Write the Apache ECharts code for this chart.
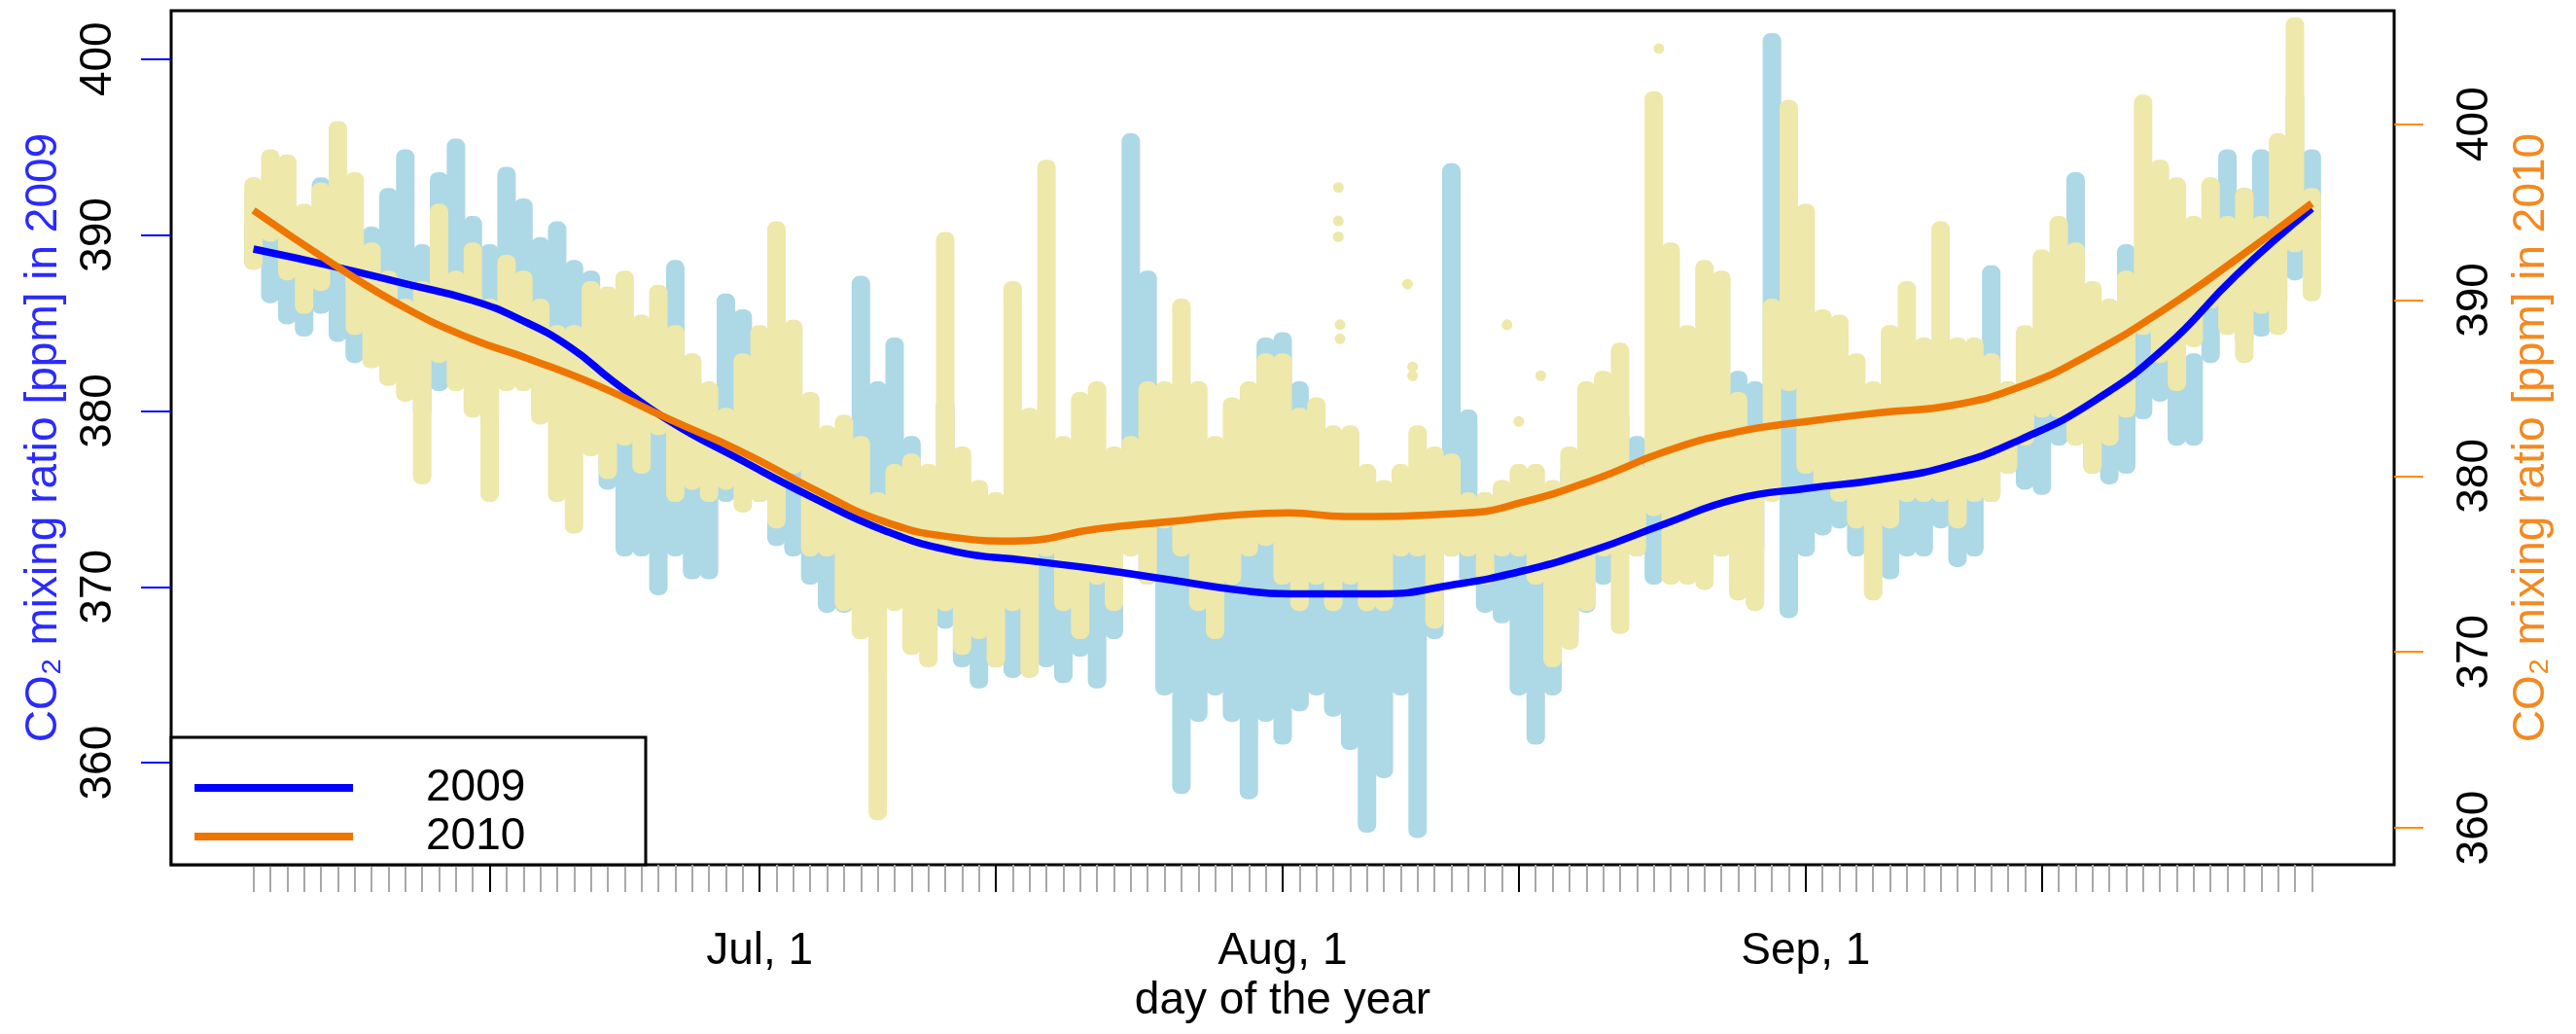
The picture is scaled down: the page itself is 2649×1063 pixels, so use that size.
<!DOCTYPE html>
<html>
<head>
<meta charset="utf-8">
<title>CO2 mixing ratio 2009 / 2010</title>
<script src="https://cdn.jsdelivr.net/npm/echarts@6/dist/echarts.min.js"></script>
<style>
  html, body { margin: 0; padding: 0; background: #fff; }
  #chart { width: 2649px; height: 1063px; }
</style>
</head>
<body>
<div id="chart"></div>
<script>
// day of the year, Jun 1 (152) .. Oct 1 (274)
var firstDay = 152;
var lastDay = 274;

// daily lowest / highest reading, 2009 (left axis, ppm)
var lo2009 = [388.3, 386.4, 385.2, 384.5, 385.8, 384.2, 383.0, 384.5, 383.3, 385.8,
  379.8, 381.4, 385.8, 383.0, 379.2, 384.5, 383.9, 383.0, 381.4, 380.1,
  378.3, 375.8, 372.0, 372.0, 369.8, 372.0, 370.7, 370.7, 375.1, 376.7,
  375.1, 372.6, 372.0, 370.4, 368.8, 368.8, 370.1, 365.0, 372.0, 368.8,
  367.3, 367.9, 365.7, 364.5, 365.7, 365.1, 366.3, 365.7, 364.8, 366.3,
  364.5, 367.3, 375.0, 370.4, 364.1, 358.5, 362.6, 364.1, 362.6, 358.2,
  362.6, 361.3, 363.2, 364.1, 362.9, 361.0, 356.3, 359.4, 364.1, 356.0,
  367.3, 372.0, 370.4, 368.8, 368.2, 364.1, 361.3, 364.1, 367.3, 368.8,
  370.4, 372.0, 372.0, 370.4, 372.0, 372.0, 373.6, 372.0, 370.4, 372.0,
  378.3, 368.5, 372.0, 373.2, 373.6, 372.0, 373.2, 370.7, 372.0, 372.0,
  373.6, 371.4, 372.0, 375.1, 376.7, 375.8, 375.5, 378.3, 379.8, 376.7,
  376.1, 376.7, 379.8, 380.8, 378.3, 378.3, 383.0, 386.1, 383.9, 384.5,
  386.1, 387.7, 390.8];
var hi2009 = [390.8, 389.9, 389.6, 389.2, 393.0, 388.9, 388.6, 390.2, 392.4, 394.6,
  389.2, 393.3, 395.2, 390.8, 389.2, 393.6, 391.8, 389.6, 390.5, 388.3,
  387.7, 383.0, 383.0, 381.4, 380.8, 388.3, 382.0, 379.8, 386.4, 385.5,
  381.4, 379.2, 377.6, 375.8, 375.1, 376.7, 387.4, 381.4, 383.9, 378.3,
  375.1, 380.5, 375.1, 373.6, 372.6, 372.0, 373.6, 373.6, 372.0, 373.6,
  372.0, 375.8, 395.5, 387.7, 376.7, 375.1, 372.0, 373.6, 370.4, 372.0,
  383.9, 384.2, 381.4, 376.7, 376.7, 375.8, 376.1, 373.6, 375.1, 372.0,
  376.7, 393.8, 379.8, 375.1, 373.6, 372.0, 370.4, 370.4, 376.7, 375.1,
  375.8, 379.8, 378.3, 376.7, 378.3, 384.5, 383.0, 379.8, 382.0, 381.4,
  401.2, 381.4, 378.3, 376.7, 378.3, 376.7, 376.7, 376.7, 376.7, 378.3,
  379.8, 381.4, 379.8, 388.0, 381.4, 379.8, 383.0, 387.7, 393.3, 386.1,
  384.5, 389.2, 384.5, 386.1, 384.5, 383.0, 389.2, 394.6, 392.4, 394.6,
  392.4, 398.0, 394.6];

// daily lowest / highest reading, 2010 (right axis, ppm)
var lo2010 = [392.0, 393.6, 391.4, 389.5, 390.8, 392.0, 388.3, 386.4, 385.4, 384.5,
  379.8, 386.7, 385.1, 383.6, 378.8, 385.1, 385.1, 383.2, 378.8, 377.0,
  381.4, 380.1, 382.0, 380.4, 382.6, 378.8, 379.5, 378.8, 379.5, 378.2,
  378.8, 377.3, 380.4, 375.7, 375.7, 372.6, 371.0, 360.7, 372.6, 370.1,
  369.4, 372.6, 370.1, 371.0, 369.4, 372.6, 368.8, 375.7, 372.6, 371.0,
  374.1, 372.6, 375.7, 374.1, 377.3, 375.7, 372.6, 371.0, 374.1, 375.7,
  376.3, 374.1, 372.6, 374.1, 372.6, 374.1, 372.6, 372.6, 375.7, 375.7,
  371.6, 375.7, 375.7, 374.1, 375.7, 375.7, 374.1, 369.4, 370.4, 372.6,
  375.7, 371.3, 375.7, 378.0, 374.1, 374.1, 373.8, 375.7, 373.2, 372.6,
  378.8, 385.1, 380.4, 379.5, 378.8, 377.3, 373.2, 377.3, 378.8, 378.8,
  378.8, 377.3, 378.8, 378.8, 380.4, 382.0, 383.6, 383.6, 382.0, 380.4,
  382.0, 383.6, 388.3, 386.7, 385.1, 387.6, 389.8, 388.3, 386.7, 389.5,
  388.3, 393.0, 390.2];
var hi2010 = [396.7, 398.3, 398.0, 395.2, 396.4, 399.9, 397.0, 393.0, 391.4, 389.8,
  390.8, 395.2, 391.4, 393.0, 389.8, 392.3, 391.4, 389.8, 388.3, 388.3,
  390.8, 390.5, 391.4, 388.9, 390.6, 388.3, 386.7, 385.1, 383.6, 386.7,
  388.3, 394.2, 388.6, 384.5, 382.6, 383.2, 382.0, 378.8, 380.4, 381.0,
  380.4, 393.6, 381.4, 379.5, 378.8, 390.8, 383.6, 397.7, 382.0, 384.5,
  385.1, 381.4, 382.0, 385.1, 385.1, 389.8, 385.1, 382.0, 384.2, 385.1,
  386.7, 386.7, 383.6, 384.2, 382.6, 382.6, 380.4, 379.5, 380.4, 382.6,
  381.4, 381.0, 378.8, 378.8, 379.5, 380.4, 380.4, 379.5, 381.4, 385.1,
  385.7, 387.3, 380.4, 401.6, 393.0, 388.3, 392.0, 391.4, 384.5, 382.6,
  389.8, 401.1, 395.2, 389.2, 388.9, 386.7, 385.1, 388.3, 390.8, 387.6,
  394.2, 387.6, 387.6, 386.7, 385.1, 388.3, 392.6, 394.5, 393.0, 390.8,
  389.8, 391.4, 401.4, 397.7, 396.7, 394.5, 396.7, 394.5, 396.1, 394.5,
  399.2, 405.8, 396.1];

// loose 2010 readings away from the band [day, ppm]
var stray2010 = [[216.3, 396.4], [216.3, 394.5], [216.3, 393.6], [216.4, 388.6], [216.4, 387.8],
  [220.4, 390.9], [220.7, 386.2], [220.7, 385.7], [226.3, 388.6], [227.0, 383.1],
  [228.3, 385.7], [235.3, 404.3]];

// smoothed curves
var curveDays2009 = [152, 156.8, 161.1, 164.9, 167.8, 170.8, 173.3, 176.7, 180.9, 185.1,
  189.4, 193.6, 197.8, 202.1, 206.3, 210.5, 213.4, 218.8, 223.0, 227.2,
  231.5, 235.7, 239.9, 244.1, 248.4, 252.6, 256.8, 261.0, 265.3, 269.5, 274];
var curve2009 = [389.2, 388.2, 387.2, 386.3, 385.2, 383.6, 381.7, 379.4, 377.2, 375.1,
  373.2, 372.0, 371.5, 371.0, 370.4, 369.8, 369.6, 369.6, 370.1, 370.9,
  372.1, 373.6, 375.0, 375.6, 376.1, 376.9, 378.4, 380.5, 383.6, 387.7, 391.5];
var curveDays2010 = [152, 156.8, 161.1, 164.9, 168.2, 172.5, 176.7, 180.9, 185.1, 189.4,
  193.6, 197.0, 202.1, 206.3, 210.5, 213.4, 216.7, 223.9, 227.2, 231.5,
  235.7, 239.9, 244.1, 248.4, 252.6, 256.8, 261.0, 265.3, 269.5, 274];
var curve2010 = [395.1, 392.0, 389.5, 387.8, 386.7, 385.1, 383.2, 381.4, 379.3, 377.4,
  376.5, 376.3, 377.0, 377.4, 377.8, 377.9, 377.7, 377.9, 378.5, 379.8,
  381.4, 382.5, 383.1, 383.6, 384.0, 385.1, 387.0, 389.5, 392.3, 395.5];

// ticks
var yTicks = [360, 370, 380, 390, 400];
var majorTicks = [166, 182, 196, 213, 227, 244, 258];
var monthStarts = [182, 213, 244];
var monthLabels = ['Jul, 1', 'Aug, 1', 'Sep, 1'];

var FONT = "'Liberation Sans', Arial, Helvetica, sans-serif";

var dailyTicks = [];
for (var d = firstDay; d <= lastDay; d++) dailyTicks.push(d);

function rangeData(lo, hi) {
  return lo.map(function (v, i) { return [firstDay + i, v, hi[i]]; });
}
function pairs(xs, ys) {
  return xs.map(function (x, i) { return [x, ys[i]]; });
}

// one day of readings = one vertical streak, wide enough to touch its neighbours
function renderRange(params, api) {
  var x = api.value(0);
  var top = api.coord([x, api.value(2)]);
  var bot = api.coord([x, api.value(1)]);
  var w = 19;
  return {
    type: 'rect',
    shape: { x: top[0] - w / 2, y: top[1] - 5, width: w, height: bot[1] - top[1] + 10, r: 8 },
    style: { fill: api.visual('color') }
  };
}

var chart = echarts.init(document.getElementById('chart'));

var option = {
  animation: false,
  backgroundColor: '#fff',
  textStyle: { fontFamily: FONT },
  grid: {
    left: 176, right: 187, top: 11, bottom: 174,
    show: true, borderColor: '#000', borderWidth: 3, backgroundColor: 'transparent'
  },
  xAxis: [
    {
      type: 'value', min: 147.12, max: 278.88, position: 'bottom',
      axisLine: { show: false }, splitLine: { show: false },
      axisTick: { show: true, customValues: dailyTicks, length: 28, lineStyle: { color: '#a8a8a8', width: 2 } },
      axisLabel: { show: false }
    },
    {
      type: 'value', min: 147.12, max: 278.88, position: 'bottom',
      axisLine: { show: false }, splitLine: { show: false },
      axisTick: { show: true, customValues: majorTicks, length: 28, lineStyle: { color: '#000', width: 2 } },
      axisLabel: {
        customValues: monthStarts,
        formatter: function (v) { return monthLabels[monthStarts.indexOf(v)]; },
        margin: 66, fontSize: 46, color: '#000', fontFamily: FONT
      },
      name: 'day of the year', nameLocation: 'middle', nameGap: 116,
      nameTextStyle: { fontSize: 46, color: '#000', fontFamily: FONT }
    }
  ],
  yAxis: [
    {
      type: 'value', position: 'left', min: 354.2, max: 402.75,
      axisLine: { show: false }, splitLine: { show: false },
      axisTick: { show: true, customValues: yTicks, length: 31, lineStyle: { color: '#0000ff', width: 2 } },
      axisLabel: { customValues: yTicks, rotate: 90, margin: 52, fontSize: 46, color: '#000', fontFamily: FONT },
      name: 'CO\u2082 mixing ratio [ppm] in 2009', nameLocation: 'middle', nameRotate: 90, nameGap: 108,
      nameTextStyle: { fontSize: 46, color: '#2a2aff', fontFamily: FONT }
    },
    {
      type: 'value', position: 'right', min: 357.9, max: 406.45,
      axisLine: { show: false }, splitLine: { show: false },
      axisTick: { show: true, customValues: yTicks, length: 30, lineStyle: { color: '#ff8c00', width: 2 } },
      axisLabel: { customValues: yTicks, rotate: 90, margin: 60, fontSize: 46, color: '#000', fontFamily: FONT },
      name: 'CO\u2082 mixing ratio [ppm] in 2010', nameLocation: 'middle', nameRotate: 90, nameGap: 118,
      nameTextStyle: { fontSize: 46, color: '#f5891f', fontFamily: FONT }
    }
  ],
  legend: {
    orient: 'vertical', left: 195, top: 782, z: 10,
    itemWidth: 163, itemHeight: 8, itemGap: 4, icon: 'rect',
    selectedMode: false,
    textStyle: { fontSize: 46, lineHeight: 40, color: '#000', fontFamily: FONT, padding: [0, 0, 0, 70] },
    data: ['2009', '2010']
  },
  graphic: [
    {
      type: 'rect', z: 5,
      shape: { x: 176, y: 758, width: 488, height: 131 },
      style: { fill: '#fff', stroke: '#000', lineWidth: 3 }
    }
  ],
  series: [
    {
      name: '2009 readings', type: 'custom', xAxisIndex: 0, yAxisIndex: 0,
      renderItem: renderRange, encode: { x: 0, y: [1, 2] },
      itemStyle: { color: '#add8e6' }, clip: true,
      data: rangeData(lo2009, hi2009)
    },
    {
      name: '2010 readings', type: 'custom', xAxisIndex: 0, yAxisIndex: 1,
      renderItem: renderRange, encode: { x: 0, y: [1, 2] },
      itemStyle: { color: '#eee8aa' }, clip: true,
      data: rangeData(lo2010, hi2010)
    },
    {
      name: '2010 stray', type: 'scatter', xAxisIndex: 0, yAxisIndex: 1,
      symbolSize: 11, itemStyle: { color: '#eee8aa', opacity: 1 },
      data: stray2010
    },
    {
      name: '2009', type: 'line', xAxisIndex: 0, yAxisIndex: 0,
      smooth: true, symbol: 'none', showSymbol: false,
      lineStyle: { color: '#0000ff', width: 7.5 }, itemStyle: { color: '#0000ff' },
      data: pairs(curveDays2009, curve2009)
    },
    {
      name: '2010', type: 'line', xAxisIndex: 0, yAxisIndex: 1,
      smooth: true, symbol: 'none', showSymbol: false,
      lineStyle: { color: '#ee7600', width: 7.5 }, itemStyle: { color: '#ee7600' },
      data: pairs(curveDays2010, curve2010)
    }
  ]
};

chart.setOption(option);
</script>
</body>
</html>
